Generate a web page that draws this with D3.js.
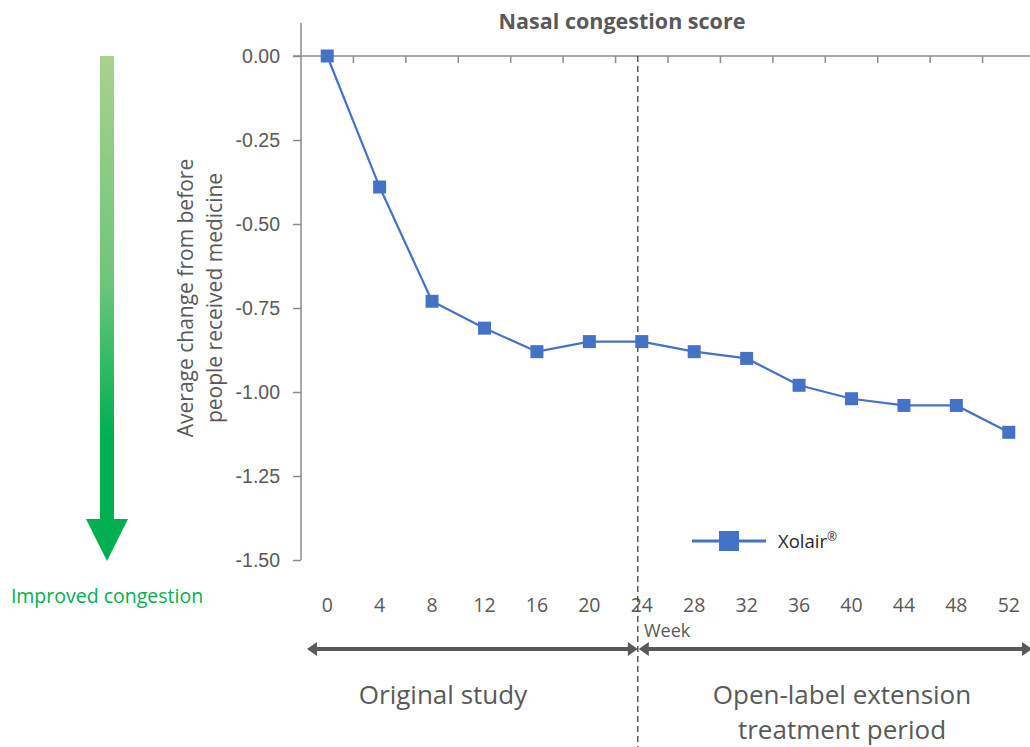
<!DOCTYPE html>
<html>
<head>
<meta charset="utf-8">
<script src="https://cdn.jsdelivr.net/npm/d3@7"></script>
<style>
  html, body { margin: 0; padding: 0; background: #fff; }
  svg { display: block; font-family: "Open Sans", "Noto Sans", sans-serif; }
</style>
</head>
<body>
<svg id="chart" width="1030" height="747"></svg>
<script>
// Nasal congestion score: mean change from baseline by study week
const weeks = ["0","4","8","12","16","20","24","28","32","36","40","44","48","52"];
const scores = [0.00,-0.39,-0.73,-0.81,-0.88,-0.85,-0.85,-0.88,-0.90,-0.98,-1.02,-1.04,-1.04,-1.12];
const yTicks = [0.00,-0.25,-0.50,-0.75,-1.00,-1.25,-1.50];
const seriesName = "Xolair";
const periods = ["Original study", ["Open-label extension","treatment period"]];

const svg = d3.select("#chart");
const gray = "#595959";
const axisGray = "#8c8c8c";
const blue = "#4472C4";

const plot = { left: 301, right: 1035, top: 56, bottom: 560 };

const x = d3.scaleBand().domain(weeks).range([plot.left, plot.right]).paddingInner(0).paddingOuter(0);
const y = d3.scaleLinear().domain([0, -1.5]).range([plot.top, plot.bottom]);

// gradient for the improvement arrow
const defs = svg.append("defs");
const grad = defs.append("linearGradient").attr("id", "greenGrad")
  .attr("x1", 0).attr("y1", 0).attr("x2", 0).attr("y2", 1);
grad.append("stop").attr("offset", "0%").attr("stop-color", "#a9d18e");
grad.append("stop").attr("offset", "45%").attr("stop-color", "#6cc67a");
grad.append("stop").attr("offset", "75%").attr("stop-color", "#00b050");
grad.append("stop").attr("offset", "100%").attr("stop-color", "#00b050");

// Title
svg.append("text").attr("x", 622).attr("y", 29).attr("text-anchor", "middle")
  .attr("font-size", 21.5).attr("font-weight", "bold").attr("fill", gray)
  .text("Nasal congestion score");

// Y axis
const yAxis = d3.axisLeft(y).tickValues(yTicks).tickFormat(d3.format(".2f")).tickSize(8).tickSizeOuter(0);
const yG = svg.append("g").attr("transform", `translate(${plot.left},0)`).call(yAxis);
yG.select(".domain").remove();
yG.append("line").attr("x1", 0).attr("x2", 0).attr("y1", 23).attr("y2", plot.bottom)
  .attr("stroke", axisGray).attr("stroke-width", 1.5);
yG.selectAll(".tick line").attr("stroke", axisGray).attr("stroke-width", 1.5);
yG.selectAll(".tick text").attr("font-size", 19.5).attr("fill", gray).attr("x", -21)
  .text(d => d3.format(".2f")(d).replace("−", "-"));

// X axis at zero with ticks between categories
const xG = svg.append("g").attr("transform", `translate(0,${y(0)})`);
xG.append("line").attr("x1", plot.left - 8).attr("x2", 1030).attr("y1", 0).attr("y2", 0)
  .attr("stroke", axisGray).attr("stroke-width", 1.5);
xG.selectAll("line.tk").data(weeks.slice(1)).join("line").attr("class", "tk")
  .attr("x1", d => x(d)).attr("x2", d => x(d)).attr("y1", 0).attr("y2", 7)
  .attr("stroke", axisGray).attr("stroke-width", 1.5);

// Week labels below plot
svg.append("g").selectAll("text").data(weeks).join("text")
  .attr("x", d => x(d) + x.bandwidth() / 2).attr("y", 612)
  .attr("text-anchor", "middle").attr("font-size", 19.5).attr("fill", gray).text(d => d);
svg.append("text").attr("x", 644).attr("y", 637).attr("font-size", 18).attr("fill", gray).text("Week");

// Y axis title
const yt = svg.append("text").attr("transform", `translate(197,298) rotate(-90)`)
  .attr("text-anchor", "middle").attr("font-size", 21).attr("fill", gray);
yt.append("tspan").attr("x", 0).attr("dy", "-0.2em").text("Average change from before");
yt.append("tspan").attr("x", 0).attr("dy", "1.4em").text("people received medicine");

// Divider between study periods (week 24)
const divX = x("24") + x.bandwidth() / 2 - 4;
svg.append("line").attr("x1", divX).attr("x2", divX).attr("y1", y(0)).attr("y2", 747)
  .attr("stroke", "#404040").attr("stroke-width", 1.3).attr("stroke-dasharray", "6,4");

// Series line + markers
const line = d3.line().x((d, i) => x(weeks[i]) + x.bandwidth() / 2).y(d => y(d));
svg.append("path").datum(scores).attr("d", line).attr("fill", "none")
  .attr("stroke", blue).attr("stroke-width", 2.2);
const ms = 13;
svg.append("g").selectAll("rect").data(scores).join("rect")
  .attr("x", (d, i) => x(weeks[i]) + x.bandwidth() / 2 - ms / 2)
  .attr("y", d => y(d) - ms / 2).attr("width", ms).attr("height", ms).attr("fill", blue);

// Legend
const lg = svg.append("g").attr("transform", "translate(692,541)");
lg.append("line").attr("x1", 0).attr("x2", 74).attr("y1", 0).attr("y2", 0).attr("stroke", blue).attr("stroke-width", 3);
lg.append("rect").attr("x", 27).attr("y", -10).attr("width", 20).attr("height", 20).attr("fill", blue);
const lt = lg.append("text").attr("x", 86).attr("y", 7).attr("font-size", 18.5).attr("fill", "#262626").text(seriesName);
lt.append("tspan").attr("font-size", 12).attr("dy", -7).text("®");

// Period double arrows
function dblArrow(x1, x2, yy) {
  const g = svg.append("g");
  const h = 10, w = 7;
  g.append("line").attr("x1", x1 + h - 1).attr("x2", x2 - h + 1).attr("y1", yy).attr("y2", yy)
    .attr("stroke", gray).attr("stroke-width", 4);
  g.append("path").attr("d", `M${x1},${yy} L${x1 + h},${yy - w} L${x1 + h},${yy + w} Z`).attr("fill", gray);
  g.append("path").attr("d", `M${x2},${yy} L${x2 - h},${yy - w} L${x2 - h},${yy + w} Z`).attr("fill", gray);
}
dblArrow(307, divX, 649);
dblArrow(divX + 1, 1032, 649);

// Period labels
svg.append("text").attr("x", 443).attr("y", 704).attr("text-anchor", "middle")
  .attr("font-size", 26).attr("fill", gray).text(periods[0]);
const pt = svg.append("text").attr("x", 842).attr("y", 704).attr("text-anchor", "middle")
  .attr("font-size", 26).attr("fill", gray);
pt.append("tspan").attr("x", 842).text(periods[1][0]);
pt.append("tspan").attr("x", 842).attr("dy", 35).text(periods[1][1]);

// Improvement direction arrow
svg.append("path")
  .attr("d", "M100,56 L114,56 L114,519 L128,519 L107,561 L86,519 L100,519 Z")
  .attr("fill", "url(#greenGrad)");
svg.append("text").attr("x", 107).attr("y", 603).attr("text-anchor", "middle")
  .attr("font-size", 19.5).attr("fill", "#00b050").text("Improved congestion");
</script>
</body>
</html>
